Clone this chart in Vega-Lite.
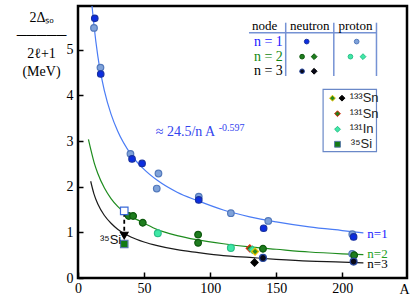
{
  "$schema": "https://vega.github.io/schema/vega-lite/v6.json",
  "width": 329,
  "height": 272,
  "autosize": "none",
  "padding": {"left": 78, "top": 6, "right": 8, "bottom": 17},
  "background": "white",
  "config": {"view": {"stroke": "black", "strokeWidth": 2.5}},
  "datasets": {
    "curves": [
      {"curve": "n1", "A": 10.6, "V": 5.96}, {"curve": "n1", "A": 12, "V": 5.56}, {"curve": "n1", "A": 15, "V": 4.86}, {"curve": "n1", "A": 20, "V": 4.1}, {"curve": "n1", "A": 25, "V": 3.59}, {"curve": "n1", "A": 30, "V": 3.22}, {"curve": "n1", "A": 40, "V": 2.71}, {"curve": "n1", "A": 50, "V": 2.38}, {"curve": "n1", "A": 60, "V": 2.14}, {"curve": "n1", "A": 75, "V": 1.88}, {"curve": "n1", "A": 90, "V": 1.7}, {"curve": "n1", "A": 110, "V": 1.49}, {"curve": "n1", "A": 130, "V": 1.34}, {"curve": "n1", "A": 150, "V": 1.23}, {"curve": "n1", "A": 175, "V": 1.12}, {"curve": "n1", "A": 200, "V": 1.04}, {"curve": "n1", "A": 216, "V": 0.99},
      {"curve": "n2", "A": 7.9, "V": 3.04}, {"curve": "n2", "A": 10, "V": 2.78}, {"curve": "n2", "A": 12.5, "V": 2.5}, {"curve": "n2", "A": 15, "V": 2.29}, {"curve": "n2", "A": 20, "V": 1.97}, {"curve": "n2", "A": 25, "V": 1.74}, {"curve": "n2", "A": 30, "V": 1.57}, {"curve": "n2", "A": 36, "V": 1.42}, {"curve": "n2", "A": 40, "V": 1.35}, {"curve": "n2", "A": 50, "V": 1.2}, {"curve": "n2", "A": 60, "V": 1.06}, {"curve": "n2", "A": 75, "V": 0.93}, {"curve": "n2", "A": 90, "V": 0.84}, {"curve": "n2", "A": 110, "V": 0.75}, {"curve": "n2", "A": 130, "V": 0.68}, {"curve": "n2", "A": 150, "V": 0.63}, {"curve": "n2", "A": 175, "V": 0.57}, {"curve": "n2", "A": 200, "V": 0.53}, {"curve": "n2", "A": 216, "V": 0.51},
      {"curve": "n3", "A": 9.6, "V": 2.12}, {"curve": "n3", "A": 12, "V": 1.85}, {"curve": "n3", "A": 15, "V": 1.62}, {"curve": "n3", "A": 20, "V": 1.37}, {"curve": "n3", "A": 25, "V": 1.2}, {"curve": "n3", "A": 30, "V": 1.07}, {"curve": "n3", "A": 40, "V": 0.9}, {"curve": "n3", "A": 50, "V": 0.79}, {"curve": "n3", "A": 60, "V": 0.71}, {"curve": "n3", "A": 75, "V": 0.62}, {"curve": "n3", "A": 90, "V": 0.56}, {"curve": "n3", "A": 110, "V": 0.49}, {"curve": "n3", "A": 130, "V": 0.45}, {"curve": "n3", "A": 150, "V": 0.41}, {"curve": "n3", "A": 175, "V": 0.37}, {"curve": "n3", "A": 200, "V": 0.35}, {"curve": "n3", "A": 216, "V": 0.33}
    ],
    "pts": [
      {"type": "n1p", "A": 12.1, "V": 5.48}, {"type": "n1p", "A": 17, "V": 4.61}, {"type": "n1p", "A": 39.7, "V": 2.72}, {"type": "n1p", "A": 60.9, "V": 2.29}, {"type": "n1p", "A": 59.6, "V": 1.96}, {"type": "n1p", "A": 91.4, "V": 1.78}, {"type": "n1p", "A": 115.7, "V": 1.42}, {"type": "n1p", "A": 144, "V": 1.25}, {"type": "n1p", "A": 207.6, "V": 0.96}, {"type": "n1p", "A": 207.5, "V": 0.53},
      {"type": "n1n", "A": 12.7, "V": 5.69}, {"type": "n1n", "A": 17.2, "V": 4.47}, {"type": "n1n", "A": 40.9, "V": 2.61}, {"type": "n1n", "A": 48.5, "V": 2.51}, {"type": "n1n", "A": 91.4, "V": 1.71}, {"type": "n1n", "A": 140.5, "V": 1.09}, {"type": "n1n", "A": 208.6, "V": 0.9},
      {"type": "n2n", "A": 38.4, "V": 1.36}, {"type": "n2n", "A": 41.7, "V": 1.36}, {"type": "n2n", "A": 49, "V": 1.21}, {"type": "n2n", "A": 90.9, "V": 0.95}, {"type": "n2n", "A": 90.9, "V": 0.77}, {"type": "n2n", "A": 140, "V": 0.64}, {"type": "n2n", "A": 209, "V": 0.5},
      {"type": "n2p", "A": 60.4, "V": 0.98}, {"type": "n2p", "A": 115.7, "V": 0.66},
      {"type": "n3n", "A": 140, "V": 0.44}, {"type": "n3n", "A": 208.6, "V": 0.36},
      {"type": "Sn131", "A": 130, "V": 0.65}, {"type": "In131", "A": 132, "V": 0.62}, {"type": "Sn133a", "A": 134, "V": 0.58}, {"type": "Sn133b", "A": 133.6, "V": 0.34},
      {"type": "Si35", "A": 35, "V": 0.745}, {"type": "Si35o", "A": 35, "V": 1.47}, {"type": "arrow", "A": 35, "V": 0.93}
    ],
    "legcirc": [
      {"type": "n1n", "A": 173.1, "V": 5.18}, {"type": "n1p", "A": 210.9, "V": 5.18},
      {"type": "n2n", "A": 169.6, "V": 4.85}, {"type": "n2p", "A": 206.2, "V": 4.85},
      {"type": "n3n", "A": 169.6, "V": 4.53}
    ],
    "legdia": [
      {"type": "n2nd", "A": 178.7, "V": 4.85}, {"type": "n2pd", "A": 215.7, "V": 4.85}, {"type": "n3nd", "A": 178.7, "V": 4.53},
      {"type": "Sn133a", "A": 192.6, "V": 3.94}, {"type": "Sn133b", "A": 199.8, "V": 3.94},
      {"type": "Sn131", "A": 196.4, "V": 3.6}, {"type": "In131", "A": 196.4, "V": 3.26}, {"type": "Si35", "A": 196.4, "V": 2.93}
    ]
  },
  "encoding": {
    "x": {"field": "A", "type": "quantitative", "scale": {"domain": [0, 249], "nice": false, "zero": false},
      "axis": {"values": [0, 50, 100, 150, 200], "grid": false, "domain": false, "tickSize": -6, "tickColor": "black", "tickWidth": 1.5, "labelPadding": 9, "labelFont": "Liberation Serif, Times New Roman, serif", "labelFontSize": 14, "labelColor": "black", "labelFlush": false, "labelOverlap": false,
        "title": "A", "titleFont": "Liberation Serif, Times New Roman, serif", "titleFontSize": 14, "titleFontWeight": "normal", "titleColor": "black", "titleX": 326, "titleY": 15, "titleAlign": "center", "titleBaseline": "alphabetic"}},
    "y": {"field": "V", "type": "quantitative", "scale": {"domain": [0, 5.96], "nice": false, "zero": false},
      "axis": {"values": [0, 1, 2, 3, 4, 5], "grid": false, "domain": false, "tickSize": -5, "tickColor": "black", "tickWidth": 1.5, "labelPadding": 10, "labelFont": "Liberation Serif, Times New Roman, serif", "labelFontSize": 14, "labelColor": "black", "labelFlush": false, "labelOverlap": false,
        "title": ["2Δₛₒ", "─────", "2ℓ+1", "(MeV)"], "titleAngle": 0, "titleX": -37, "titleY": 4, "titleAlign": "center", "titleBaseline": "top", "titleLineHeight": 18, "titleFont": "Liberation Serif, Times New Roman, serif", "titleFontSize": 14, "titleFontWeight": "normal", "titleColor": "black"}}
  },
  "layer": [
    {"data": {"name": "curves"}, "mark": {"type": "line", "interpolate": "monotone", "strokeWidth": 1.2, "clip": true},
      "encoding": {"color": {"field": "curve", "type": "nominal", "scale": {"domain": ["n1", "n2", "n3"], "range": ["#4a7cf5", "#1e8c1e", "#1a1a1a"]}, "legend": null}}},
    {"data": {"values": [{"A": 35, "V": 1.43, "V2": 0.96}]}, "mark": {"type": "rule", "strokeDash": [4, 3], "strokeWidth": 1.8, "color": "black"},
      "encoding": {"y2": {"field": "V2"}}},
    {"data": {"values": [{"A": 129.4, "A2": 225.9, "V": 5.375}]}, "mark": {"type": "rule", "color": "#7592d4", "strokeWidth": 1.5},
      "encoding": {"x2": {"field": "A2"}}},
    {"data": {"values": [{"A": 157.2, "V": 5.594, "V2": 4.426}, {"A": 193.6, "V": 5.594, "V2": 4.426}, {"A": 225.9, "V": 5.594, "V2": 4.426}]}, "mark": {"type": "rule", "color": "#7592d4", "strokeWidth": 1.5},
      "encoding": {"y2": {"field": "V2"}}},
    {"data": {"values": [{"A": 185.5, "A2": 225.9, "V": 4.134, "V2": 2.767}]}, "mark": {"type": "rect", "fill": "white", "stroke": "#6a88c8", "strokeWidth": 1.2},
      "encoding": {"x2": {"field": "A2"}, "y2": {"field": "V2"}}},
    {"data": {"name": "pts"}, "mark": {"type": "point", "opacity": 1, "strokeWidth": 1.2},
      "encoding": {
        "shape": {"field": "type", "type": "nominal", "legend": null, "scale": {"domain": ["n1n", "n1p", "n2n", "n2p", "n2nd", "n2pd", "n3n", "n3nd", "Sn133a", "Sn133b", "Sn131", "In131", "Si35", "Si35o", "arrow"], "range": ["circle", "circle", "circle", "circle", "diamond", "diamond", "circle", "diamond", "diamond", "diamond", "diamond", "diamond", "square", "square", "triangle-down"]}},
        "fill": {"field": "type", "type": "nominal", "legend": null, "scale": {"domain": ["n1n", "n1p", "n2n", "n2p", "n2nd", "n2pd", "n3n", "n3nd", "Sn133a", "Sn133b", "Sn131", "In131", "Si35", "Si35o", "arrow"], "range": ["#0b2de0", "#7fa2d9", "#1e7d1e", "#3fe8a6", "#1e7d1e", "#3fe8a6", "#080818", "#080818", "#2a8a1e", "#000000", "#2a7a1a", "#40e8a8", "#137a13", "#ffffff", "#000000"]}},
        "stroke": {"field": "type", "type": "nominal", "legend": null, "scale": {"domain": ["n1n", "n1p", "n2n", "n2p", "n2nd", "n2pd", "n3n", "n3nd", "Sn133a", "Sn133b", "Sn131", "In131", "Si35", "Si35o", "arrow"], "range": ["#1830a0", "#5278bb", "#0f5a0f", "#2bbf88", "#0f5a0f", "#2bbf88", "#2848a0", "#000000", "#e8c400", "#000000", "#e02a10", "#2bbf88", "#5a7aa8", "#3a6ad8", "#000000"]}},
        "size": {"field": "type", "type": "nominal", "legend": null, "scale": {"domain": ["n1n", "n1p", "n2n", "n2p", "n3n", "Sn133a", "Sn133b", "Sn131", "In131", "Si35", "Si35o", "arrow"], "range": [42, 58, 42, 48, 40, 50, 50, 50, 50, 55, 55, 32]}}
      }},
    {"data": {"name": "legcirc"}, "mark": {"type": "point", "opacity": 1, "strokeWidth": 1, "size": 22},
      "encoding": {"shape": {"field": "type", "type": "nominal", "legend": null}, "fill": {"field": "type", "type": "nominal", "legend": null}, "stroke": {"field": "type", "type": "nominal", "legend": null}}},
    {"data": {"name": "legdia"}, "mark": {"type": "point", "opacity": 1, "strokeWidth": 1, "size": 34},
      "encoding": {"shape": {"field": "type", "type": "nominal", "legend": null}, "fill": {"field": "type", "type": "nominal", "legend": null}, "stroke": {"field": "type", "type": "nominal", "legend": null}}},
    {"data": {"values": [{"A": 141.3, "V": 5.53, "t": "node"}, {"A": 175.4, "V": 5.53, "t": "neutron"}, {"A": 210, "V": 5.53, "t": "proton"}]},
      "mark": {"type": "text", "font": "Liberation Serif, Times New Roman, serif", "fontSize": 13, "align": "center", "baseline": "middle", "color": "black"},
      "encoding": {"text": {"field": "t"}}},
    {"data": {"values": [{"A": 155, "V": 5.18, "t": "n = 1"}]}, "mark": {"type": "text", "font": "Liberation Serif, Times New Roman, serif", "fontSize": 14, "align": "right", "baseline": "middle", "color": "#1a1aff"}, "encoding": {"text": {"field": "t"}}},
    {"data": {"values": [{"A": 155, "V": 4.85, "t": "n = 2"}]}, "mark": {"type": "text", "font": "Liberation Serif, Times New Roman, serif", "fontSize": 14, "align": "right", "baseline": "middle", "color": "#118811"}, "encoding": {"text": {"field": "t"}}},
    {"data": {"values": [{"A": 155, "V": 4.53, "t": "n = 3"}]}, "mark": {"type": "text", "font": "Liberation Serif, Times New Roman, serif", "fontSize": 14, "align": "right", "baseline": "middle", "color": "black"}, "encoding": {"text": {"field": "t"}}},
    {"data": {"values": [{"A": 219, "V": 0.96, "t": "n=1"}]}, "mark": {"type": "text", "font": "Liberation Serif, Times New Roman, serif", "fontSize": 13, "align": "left", "baseline": "middle", "color": "#1a1aff"}, "encoding": {"text": {"field": "t"}}},
    {"data": {"values": [{"A": 219, "V": 0.53, "t": "n=2"}]}, "mark": {"type": "text", "font": "Liberation Serif, Times New Roman, serif", "fontSize": 13, "align": "left", "baseline": "middle", "color": "#22a022"}, "encoding": {"text": {"field": "t"}}},
    {"data": {"values": [{"A": 219, "V": 0.31, "t": "n=3"}]}, "mark": {"type": "text", "font": "Liberation Serif, Times New Roman, serif", "fontSize": 13, "align": "left", "baseline": "middle", "color": "black"}, "encoding": {"text": {"field": "t"}}},
    {"data": {"values": [{"A": 58.8, "V": 3.2, "t": "≈ 24.5/n A"}]}, "mark": {"type": "text", "font": "Liberation Serif, Times New Roman, serif", "fontSize": 14, "align": "left", "baseline": "middle", "color": "#3344ee"}, "encoding": {"text": {"field": "t"}}},
    {"data": {"values": [{"A": 106.5, "V": 3.29, "t": "-0.597"}]}, "mark": {"type": "text", "font": "Liberation Serif, Times New Roman, serif", "fontSize": 10, "align": "left", "baseline": "middle", "color": "#3344ee"}, "encoding": {"text": {"field": "t"}}},
    {"data": {"values": [{"A": 205.6, "V": 3.94, "t": "¹³³Sn"}, {"A": 205.6, "V": 3.6, "t": "¹³¹Sn"}, {"A": 205.6, "V": 3.26, "t": "¹³¹In"}, {"A": 206.5, "V": 2.93, "t": "³⁵Si"}]},
      "mark": {"type": "text", "font": "Liberation Sans", "fontSize": 13, "align": "left", "baseline": "middle", "color": "#222222"}, "encoding": {"text": {"field": "t"}}},
    {"data": {"values": [{"A": 32.7, "V": 0.83, "t": "³⁵Si"}]},
      "mark": {"type": "text", "font": "Liberation Sans", "fontSize": 13, "align": "right", "baseline": "middle", "color": "#111111"}, "encoding": {"text": {"field": "t"}}}
  ],
  "resolve": {"scale": {"size": "independent"}}
}
